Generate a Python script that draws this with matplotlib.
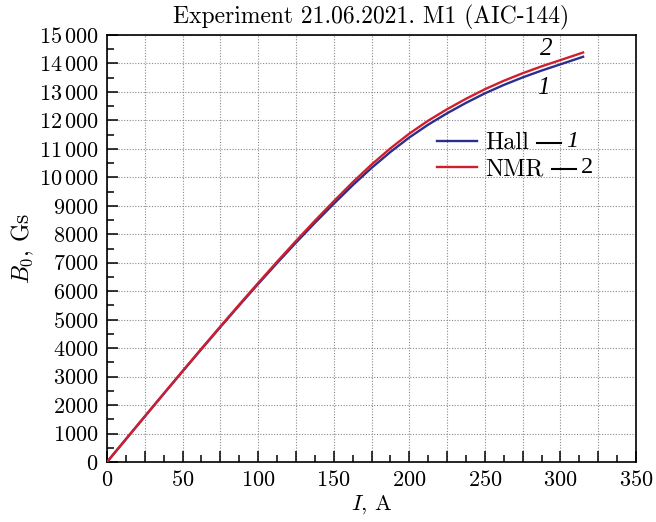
import matplotlib
matplotlib.use("Agg")
import matplotlib.pyplot as plt
from matplotlib.ticker import MultipleLocator, FuncFormatter

# ---- data ----
current = [0, 12.5, 25, 37.5, 50, 62.5, 75, 87.5, 100, 112.5, 125, 137.5, 150,
           162.5, 175, 187.5, 200, 212.5, 225, 237.5, 250, 262.5, 275, 287.5, 300, 315]
hall = [0, 800, 1598, 2393, 3183, 3966, 4740, 5503, 6253, 6988, 7705, 8400, 9070,
        9720, 10330, 10890, 11400, 11850, 12250, 12615, 12950, 13245, 13510, 13750, 13970, 14235]
nmr = [0, 802, 1603, 2401, 3195, 3982, 4762, 5531, 6289, 7034, 7763, 8472, 9158,
       9824, 10448, 11018, 11535, 11990, 12392, 12759, 13095, 13391, 13657, 13898, 14118, 14385]

title = "Experiment 21.06.2021. M1 (AIC-144)"
xlabel = "$I$, A"
ylabel = "$B_0$, Gs"
legend_names = ["Hall", "NMR"]
legend_nums = ["1", "2"]

plt.rcParams['font.family'] = ['cmr10', 'DejaVu Serif']
plt.rcParams['mathtext.fontset'] = 'cm'
plt.rcParams['axes.unicode_minus'] = False

BLUE = '#2b2e8c'
RED = '#cf1f2e'
W, H = 6.56, 5.22

fig = plt.figure(figsize=(W, H), dpi=100)
ax = fig.add_axes([107/656, 1 - 462/522, (636-107)/656, (462-35)/522])

ax.plot(current, hall, color=BLUE, lw=1.7, label=legend_names[0], zorder=3)
ax.plot(current, nmr, color=RED, lw=1.7, label=legend_names[1], zorder=4)

ax.set_xlim(0, 350)
ax.set_ylim(0, 15000)

ax.xaxis.set_major_locator(MultipleLocator(25))
ax.xaxis.set_minor_locator(MultipleLocator(12.5))
ax.yaxis.set_major_locator(MultipleLocator(1000))
ax.yaxis.set_minor_locator(MultipleLocator(500))

def xfmt(v, pos):
    iv = int(round(v))
    return f"${iv}$" if iv % 50 == 0 else ""

def yfmt(v, pos):
    iv = int(round(v))
    if iv >= 10000:
        return f"${iv // 1000}\\,{iv % 1000:03d}$"
    return f"${iv}$"

ax.xaxis.set_major_formatter(FuncFormatter(xfmt))
ax.yaxis.set_major_formatter(FuncFormatter(yfmt))

ax.tick_params(which='major', direction='in', length=8, width=1.1, labelsize=16,
               top=False, right=False, pad=6)
ax.tick_params(which='minor', direction='in', length=5, width=1.1, top=False, right=False)
for s in ax.spines.values():
    s.set_linewidth(1.2)

ax.grid(True, which='major', color='#8a8a8a', linestyle=(0, (1, 1.5)), linewidth=0.8)
ax.set_axisbelow(True)

ax.set_title(title, fontsize=17, pad=8)
ax.set_xlabel(xlabel, fontsize=16, labelpad=2)
ax.set_ylabel(ylabel, fontsize=17, labelpad=2)

leg = ax.legend(loc='upper left', bbox_to_anchor=(0.605, 0.795), frameon=False,
                fontsize=17.5, handlelength=1.65, handletextpad=0.35, labelspacing=0.15,
                borderaxespad=0)
texts = leg.get_texts()
handles = leg.get_lines()

fig.canvas.draw()
r = fig.canvas.get_renderer()
inv = fig.transFigure.inverted()
for t, hl, lab, it in zip(texts, handles, legend_nums, [True, False]):
    bb = t.get_window_extent(r)
    hb = hl.get_window_extent(r)
    yd = (hb.y0 + hb.y1) / 2 - 2.5
    x0 = bb.x1 + 8
    x1 = x0 + 24
    (fx0, fy), (fx1, _) = inv.transform([(x0, yd), (x1, yd)])
    fig.add_artist(plt.Line2D([fx0, fx1], [fy, fy], color='black', lw=1.5,
                              transform=fig.transFigure))
    fx, fyb = inv.transform((x1 + 5, bb.y0 + 2))
    fig.text(fx, fyb, lab, fontsize=17.5, family='Liberation Serif',
             style='italic' if it else 'normal', va='bottom', ha='left')

# curve annotations
ax.text(290.5, 14520, legend_nums[1], fontsize=18, family='Liberation Serif', style='italic',
        ha='center', va='center')
ax.text(288.5, 13150, legend_nums[0], fontsize=18, family='Liberation Serif', style='italic',
        ha='center', va='center')

fig.savefig("out.png", dpi=100)
